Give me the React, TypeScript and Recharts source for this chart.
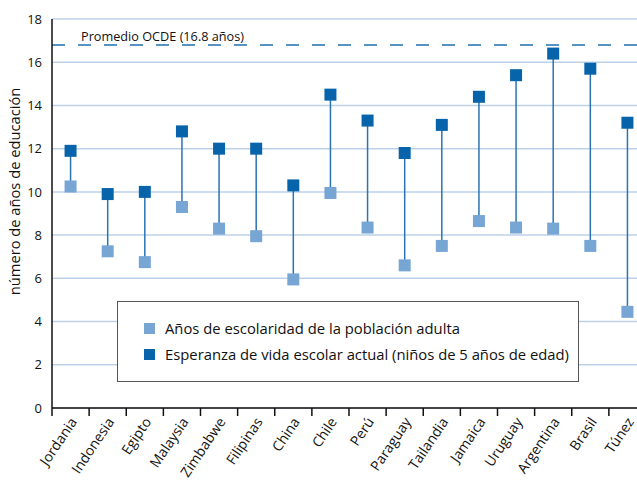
import {
  CartesianGrid,
  ComposedChart,
  ErrorBar,
  Legend,
  ReferenceLine,
  Scatter,
  XAxis,
  YAxis,
} from "recharts"

const COUNTRIES = [
  "Jordania", "Indonesia", "Egipto", "Malaysia", "Zimbabwe", "Filipinas", "China", "Chile",
  "Perú", "Paraguay", "Tailandia", "Jamaica", "Uruguay", "Argentina", "Brasil", "Túnez",
]
const ADULT_YEARS = [10.25, 7.25, 6.75, 9.3, 8.3, 7.95, 5.95, 9.95, 8.35, 6.6, 7.5, 8.65, 8.35, 8.3, 7.5, 4.45]
const SCHOOL_LIFE = [11.9, 9.9, 10.0, 12.8, 12.0, 12.0, 10.3, 14.5, 13.3, 11.8, 13.1, 14.4, 15.4, 16.4, 15.7, 13.2]
const Y_TICKS = [0, 2, 4, 6, 8, 10, 12, 14, 16, 18]
const OECD_AVG = 16.8

const ADULT_LABEL = "Años de escolaridad de la población adulta"
const SCHOOL_LABEL = "Esperanza de vida escolar actual (niños de 5 años de edad)"

const FONT = "'Open Sans', sans-serif"
const DARK = "#0764aa"
const LIGHT = "#77a5d4"
const STEM = "#2a74b4"

// the original figure is cropped on the right, so the chart is a bit wider than the frame
const FRAME_W = 637
const W = 646
const H = 481
const MARGIN = { top: 19, right: 0, left: 0, bottom: 0 }
const Y_W = 52
const X_H = 73
const HALF_CAT = (W - MARGIN.left - MARGIN.right - Y_W) / (2 * COUNTRIES.length)

const rows = COUNTRIES.map((name, i) => ({
  x: i + 0.5,
  name,
  adult: ADULT_YEARS[i],
  school: SCHOOL_LIFE[i],
  stem: [0, SCHOOL_LIFE[i] - ADULT_YEARS[i]],
}))
const boundaryTicks = Array.from({ length: COUNTRIES.length + 1 }, (_, i) => i)

function Square({ cx, cy, fill }: any) {
  if (cx == null || cy == null) return <g />
  return <rect x={cx - 6} y={cy - 6} width={12} height={12} fill={fill} />
}

function CountryTick({ x, y, payload }: any) {
  const name = COUNTRIES[payload.value]
  if (!name) return <g />
  return (
    <g transform={`translate(${x + HALF_CAT + 3},${y + 1})`}>
      <text
        textAnchor="end"
        transform="rotate(-56)"
        dy="0.35em"
        fontSize={14}
        fontFamily={FONT}
        fill="#111"
      >
        {name}
      </text>
    </g>
  )
}

function LegendBox() {
  const items = [
    { label: ADULT_LABEL, color: LIGHT },
    { label: SCHOOL_LABEL, color: DARK },
  ]
  return (
    <div
      style={{
        border: "1.5px solid #555",
        background: "#fff",
        width: 462,
        height: 81,
        boxSizing: "border-box",
        padding: "13px 0 0 26px",
        fontFamily: FONT,
        fontSize: 14.8,
        color: "#111",
      }}
    >
      {items.map((it) => (
        <div key={it.label} style={{ display: "flex", alignItems: "center", height: 26 }}>
          <span style={{ width: 11, height: 11, background: it.color, marginRight: 10, flex: "none" }} />
          {it.label}
        </div>
      ))}
    </div>
  )
}

export default function App() {
  return (
    <div
      style={{
        position: "absolute",
        left: 0,
        top: 0,
        width: FRAME_W,
        height: H,
        overflow: "hidden",
        background: "#fff",
      }}
    >
      <ComposedChart width={W} height={H} data={rows} margin={MARGIN}>
        <CartesianGrid vertical={false} stroke="#bcd1e8" strokeWidth={1.5} />
        <XAxis
          dataKey="x"
          type="number"
          domain={[0, COUNTRIES.length]}
          ticks={boundaryTicks}
          interval={0}
          height={X_H}
          tickSize={8}
          tickLine={{ stroke: "#111", strokeWidth: 1.5 }}
          axisLine={{ stroke: "#111", strokeWidth: 1.5 }}
          tick={<CountryTick />}
        />
        <YAxis
          type="number"
          domain={[0, 18]}
          ticks={Y_TICKS}
          width={Y_W}
          tickLine={false}
          tickMargin={4}
          axisLine={{ stroke: "#111", strokeWidth: 1.5 }}
          tick={{ fontSize: 13, fontFamily: FONT, fill: "#111" }}
          label={{
            value: "número de años de educación",
            angle: -90,
            position: "insideLeft",
            dx: 10,
            dy: -22,
            style: { textAnchor: "middle", fontSize: 14.7, fontFamily: FONT, fill: "#111" },
          }}
        />
        <ReferenceLine
          y={OECD_AVG}
          stroke="#1f6fae"
          strokeWidth={1.5}
          strokeDasharray="13 13"
          label={{
            value: "Promedio OCDE (16.8 años)",
            position: "insideTopLeft",
            dx: 24,
            dy: -18,
            style: { fontSize: 12.7, fontFamily: FONT, fill: "#111" },
          }}
        />
        <Scatter
          name={ADULT_LABEL}
          dataKey="adult"
          fill={LIGHT}
          shape={<Square />}
          isAnimationActive={false}
        >
          <ErrorBar dataKey="stem" direction="y" width={0} stroke={STEM} strokeWidth={1.5} />
        </Scatter>
        <Scatter
          name={SCHOOL_LABEL}
          dataKey="school"
          fill={DARK}
          shape={<Square />}
          isAnimationActive={false}
        />
        <Legend
          layout="vertical"
          align="center"
          verticalAlign="middle"
          content={<LegendBox />}
          wrapperStyle={{ left: 117, top: 301, width: 462, height: 81 }}
        />
      </ComposedChart>
    </div>
  )
}
